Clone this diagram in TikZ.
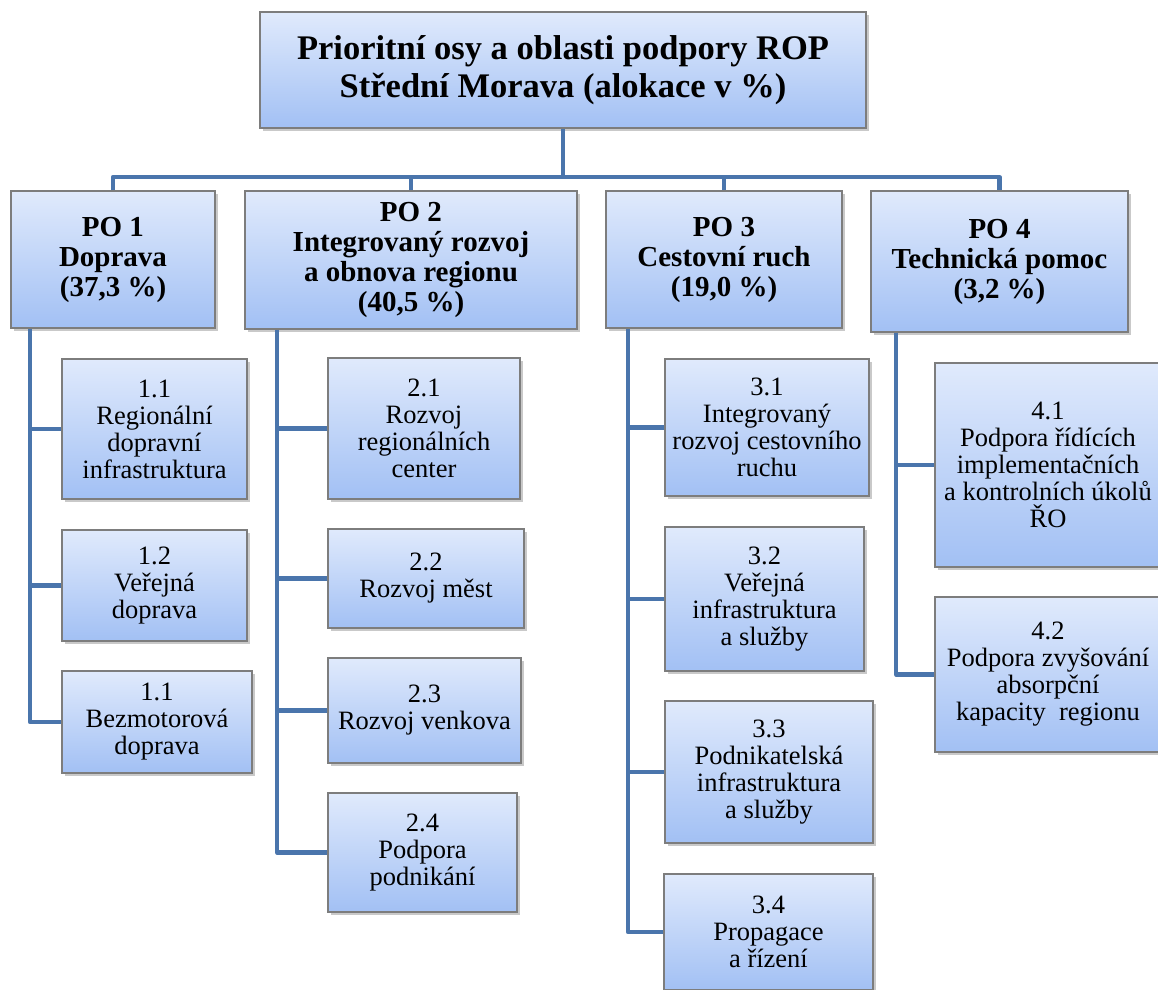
\documentclass[tikz,border=0pt]{standalone}
\usepackage{fontspec}
\setmainfont{Liberation Serif}
\usetikzlibrary{shadows}
\definecolor{boxtop}{RGB}{224,234,252}
\definecolor{boxbot}{RGB}{162,192,244}
\definecolor{boxborder}{RGB}{125,125,125}
\definecolor{conncol}{RGB}{74,117,172}
\tikzset{
  box/.style={draw=boxborder, line width=1.1pt, top color=boxtop, bottom color=boxbot,
    drop shadow={shadow xshift=2.5pt, shadow yshift=-3pt, opacity=0.35, fill=black!60},
    align=center, inner sep=0pt},
  subbox/.style={box, font=\fontsize{26.5}{27}\selectfont},
  pobox/.style={box, font=\bfseries\fontsize{29}{30}\selectfont},
  topbox/.style={box, font=\bfseries\fontsize{34.5}{38}\selectfont},
  conn/.style={draw=conncol, line width=4.2pt, line join=round}
}
\begin{document}
\begin{tikzpicture}[x=1pt,y=-1pt]
\useasboundingbox (0,0) rectangle (1158,989);
\clip (0,0) rectangle (1158,989);
\fill[white] (0,0) rectangle (1158,989);

\node[topbox, minimum width=606pt, minimum height=116pt] (top) at (563,70)
  {Prioritní osy a oblasti podpory ROP\\Střední Morava (alokace v \%)};

\node[pobox, minimum width=204pt, minimum height=137pt] (po1) at (113,259.5)
  {PO 1\\Doprava\\(37,3 \%)};
\node[pobox, minimum width=332pt, minimum height=138pt] (po2) at (411,260)
  {PO 2\\Integrovaný rozvoj\\a obnova regionu\\(40,5 \%)};
\node[pobox, minimum width=236pt, minimum height=137pt] (po3) at (724,259.5)
  {PO 3\\Cestovní ruch\\(19,0 \%)};
\node[pobox, minimum width=257pt, minimum height=141pt] (po4) at (999.5,261.5)
  {PO 4\\Technická pomoc\\(3,2 \%)};

\node[subbox, minimum width=185pt, minimum height=140pt] (s11) at (154.5,429)
  {1.1\\Regionální\\dopravní\\infrastruktura};
\node[subbox, minimum width=185pt, minimum height=111pt] (s12) at (154.5,585.5)
  {1.2\\Veřejná\\doprava};
\node[subbox, minimum width=190pt, minimum height=102pt] (s13) at (157,722)
  {1.1\\Bezmotorová\\doprava};

\node[subbox, minimum width=192pt, minimum height=141pt] (s21) at (424,428.5)
  {2.1\\Rozvoj\\regionálních\\center};
\node[subbox, minimum width=196pt, minimum height=99pt] (s22) at (426,578.5)
  {2.2\\Rozvoj měst};
\node[subbox, minimum width=193pt, minimum height=105pt] (s23) at (424.5,710.5)
  {2.3\\Rozvoj venkova};
\node[subbox, minimum width=189pt, minimum height=119pt] (s24) at (422.5,852.5)
  {2.4\\Podpora\\podnikání};

\node[subbox, minimum width=204pt, minimum height=137pt] (s31) at (767,427.5)
  {3.1\\Integrovaný\\rozvoj cestovního\\ruchu};
\node[subbox, minimum width=199pt, minimum height=144pt] (s32) at (764.5,599)
  {3.2\\Veřejná\\infrastruktura\\a služby};
\node[subbox, minimum width=208pt, minimum height=142pt] (s33) at (769,772)
  {3.3\\Podnikatelská\\infrastruktura\\a služby};
\node[subbox, minimum width=209pt, minimum height=116pt] (s34) at (768.5,932)
  {3.4\\Propagace\\a řízení};

\node[subbox, minimum width=226pt, minimum height=204pt] (s41) at (1048,465)
  {4.1\\Podpora řídících\\implementačních\\a kontrolních úkolů\\ŘO};
\node[subbox, minimum width=226pt, minimum height=155pt] (s42) at (1048,674.5)
  {4.2\\Podpora zvyšování\\absorpční\\kapacity\ \ regionu};

% connectors
\coordinate (bus) at (563,177);
\coordinate (t1) at (30,0);
\coordinate (t2) at (277,0);
\coordinate (t3) at (628,0);
\coordinate (t4) at (896,0);

\draw[conn] (top.south) -- (bus);
\draw[conn] (po1.north) |- (bus) -| (po4.north);
\draw[conn] (po2.north) -- (po2.north |- bus);
\draw[conn] (po3.north) -- (po3.north |- bus);

\draw[conn] (po1.south -| t1) |- (s13.west);
\draw[conn] (s11.west) -- (s11.west -| t1);
\draw[conn] (s12.west) -- (s12.west -| t1);

\draw[conn] (po2.south -| t2) |- (s24.west);
\draw[conn] (s21.west) -- (s21.west -| t2);
\draw[conn] (s22.west) -- (s22.west -| t2);
\draw[conn] (s23.west) -- (s23.west -| t2);

\draw[conn] (po3.south -| t3) |- (s34.west);
\draw[conn] (s31.west) -- (s31.west -| t3);
\draw[conn] (s32.west) -- (s32.west -| t3);
\draw[conn] (s33.west) -- (s33.west -| t3);

\draw[conn] (po4.south -| t4) |- (s42.west);
\draw[conn] (s41.west) -- (s41.west -| t4);
\end{tikzpicture}
\end{document}
